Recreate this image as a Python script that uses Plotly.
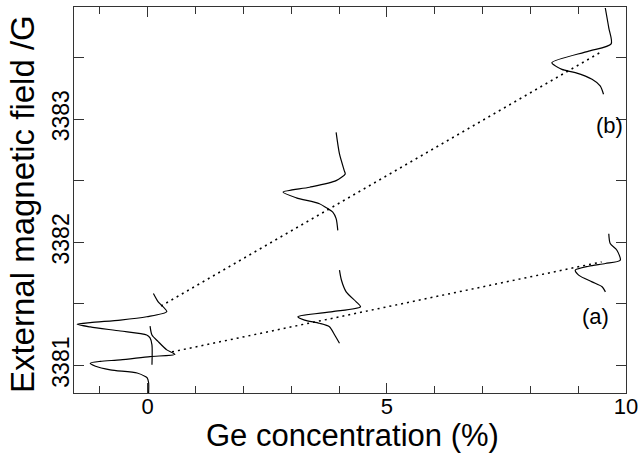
import plotly.graph_objects as go

# ---- data ----
# ESR derivative spectra drawn sideways: x = Ge concentration axis, y = field (G)
spec_a0_ge = [0.02, 0.02, -0.01, -0.05, -0.22, -0.78, -1.09, -1.20, -0.99, -0.57, 0.05, 0.57, 0.40, 0.22, 0.09, 0.05]
spec_a0_field = [3380.777, 3380.86, 3380.90, 3380.911, 3380.939, 3380.965, 3380.994, 3381.019,
                 3381.034, 3381.046, 3381.073, 3381.09, 3381.127, 3381.194, 3381.248, 3381.32]

spec_b0_ge = [0.09, 0.09, 0.05, -0.02, -0.57, -1.20, -1.475, -1.20, -0.57, -0.02, 0.40, 0.22, 0.12]
spec_b0_field = [3381.006, 3381.167, 3381.224, 3381.248, 3381.28, 3381.313, 3381.335,
                 3381.349, 3381.369, 3381.396, 3381.437, 3381.517, 3381.585]

spec_b4_ge = [3.94, 4.01, 4.11, 4.13, 3.94, 3.385, 2.83, 3.11, 3.59, 3.77, 3.87, 3.94, 3.975]
spec_b4_field = [3382.892, 3382.717, 3382.582, 3382.555, 3382.501, 3382.447, 3382.407,
                 3382.361, 3382.313, 3382.272, 3382.245, 3382.192, 3382.097]

spec_a4_ge = [4.01, 4.05, 4.15, 4.36, 4.45, 3.87, 3.14, 3.28, 3.59, 3.80, 3.91, 4.01]
spec_a4_field = [3381.774, 3381.694, 3381.598, 3381.517, 3381.477, 3381.437, 3381.396,
                 3381.369, 3381.343, 3381.315, 3381.248, 3381.181]

spec_b95_ge = [9.567, 9.64, 9.69, 9.22, 8.45, 8.66, 8.94, 9.29, 9.46, 9.53]
spec_b95_field = [3383.902, 3383.74, 3383.611, 3383.552, 3383.458, 3383.404, 3383.377,
                  3383.323, 3383.269, 3383.202]

spec_a95_ge = [9.64, 9.67, 9.81, 9.88, 9.57, 9.22, 8.94, 9.01, 9.29, 9.50, 9.57]
spec_a95_field = [3382.070, 3381.990, 3381.936, 3381.855, 3381.828, 3381.806, 3381.774,
                  3381.734, 3381.679, 3381.639, 3381.598]

line_a_ge = [0.51, 9.49]
line_a_field = [3381.111, 3381.841]
line_b_ge = [0.28, 9.51]
line_b_field = [3381.483, 3383.552]

x_tickvals = [0, 5, 10]
y_tickvals = [3381, 3382, 3383]
y_ticktext = ["3381", "3382", "3383"]

FONT = "Liberation Sans, Arial, Helvetica, sans-serif"

fig = go.Figure()

for gx, fy in [(spec_a0_ge, spec_a0_field), (spec_b0_ge, spec_b0_field),
               (spec_b4_ge, spec_b4_field), (spec_a4_ge, spec_a4_field),
               (spec_b95_ge, spec_b95_field), (spec_a95_ge, spec_a95_field)]:
    fig.add_trace(go.Scatter(x=gx, y=fy, mode="lines",
                             line=dict(color="black", width=1.2, shape="spline", smoothing=0.7),
                             showlegend=False, hoverinfo="skip"))

for gx, fy in [(line_a_ge, line_a_field), (line_b_ge, line_b_field)]:
    fig.add_trace(go.Scatter(x=gx, y=fy, mode="lines",
                             line=dict(color="black", width=1.5, dash="2px,4px"),
                             showlegend=False, hoverinfo="skip"))

fig.add_annotation(x=9.66, y=3382.946, text="(b)", showarrow=False,
                   font=dict(family=FONT, size=22, color="black"))
fig.add_annotation(x=9.36, y=3381.402, text="(a)", showarrow=False,
                   font=dict(family=FONT, size=22, color="black"))

# axis titles as annotations for exact placement
fig.add_annotation(xref="paper", yref="paper", x=0.505, y=-0.109, yanchor="middle",
                   text="Ge concentration (%)", showarrow=False, borderpad=0,
                   font=dict(family=FONT, size=31, color="black"))
fig.add_annotation(xref="paper", yref="paper", x=-0.092, y=0.49, xanchor="center",
                   textangle=-90, text="External magnetic field /G", showarrow=False,
                   font=dict(family=FONT, size=33, color="black"))

fig.update_layout(
    width=644, height=454,
    margin=dict(l=74, r=16, t=6, b=61),
    paper_bgcolor="white", plot_bgcolor="white",
    font=dict(family=FONT, color="black"),
    showlegend=False,
)
fig.update_xaxes(
    range=[-1.54, 10.0], tickvals=x_tickvals, ticks="inside", ticklen=10, tickwidth=1,
    tickcolor="#333", showline=True, linecolor="#333", linewidth=1, mirror="ticks",
    showgrid=False, zeroline=False, ticklabelstandoff=-6,
    tickfont=dict(family=FONT, size=22),
    minor=dict(dtick=1, ticks="inside", ticklen=7, tickcolor="#333", showgrid=False),
)
fig.update_yaxes(
    range=[3380.777, 3383.91], tickvals=y_tickvals, ticktext=y_ticktext, tickangle=-90,
    ticks="inside", ticklen=10, tickwidth=1, tickcolor="#333",
    showline=True, linecolor="#333", linewidth=1, mirror="ticks",
    showgrid=False, zeroline=False, ticklabelstandoff=-5,
    tickfont=dict(family=FONT, size=23),
    minor=dict(dtick=0.5, ticks="inside", ticklen=10, tickcolor="#333", showgrid=False),
)

fig.write_html("out.html", config={"displayModeBar": False},
               post_script="document.body.style.margin='0';")
